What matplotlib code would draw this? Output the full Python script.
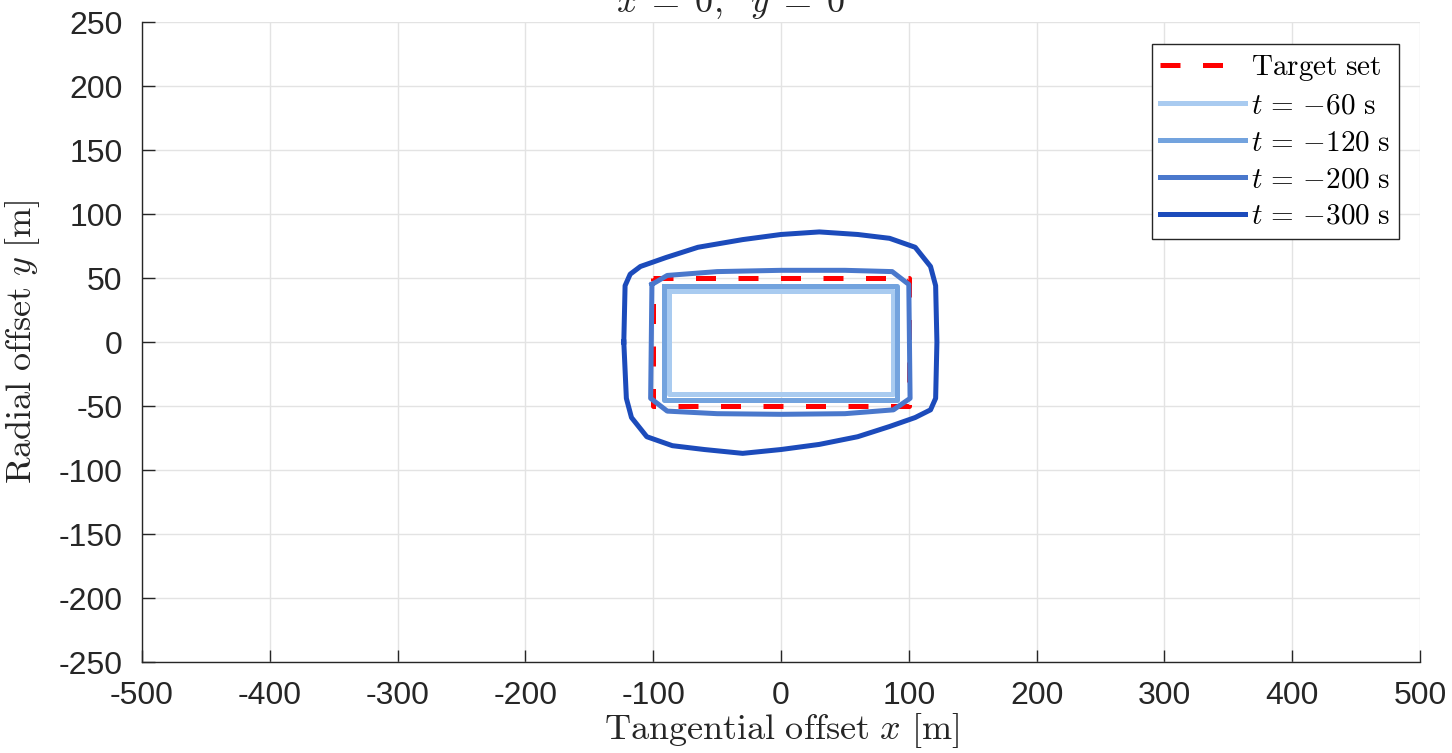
import matplotlib.pyplot as plt

plt.rcParams['mathtext.fontset'] = 'cm'
plt.rcParams['font.family'] = ['Liberation Sans', 'DejaVu Sans']
plt.rcParams['axes.unicode_minus'] = False

# Target set (box)
target_x = [-100, 100, 100, -100, -100]
target_y = [50, 50, -50, -50, 50]

# Backward reachable sets at different times
t60_x = [-88, 88, 88, -88, -88]
t60_y = [40, 40, -40.5, -40.5, 40]

t120_x = [-91.5, 91, 91, -91.5, -91.5]
t120_y = [44, 44, -45, -45, 44]

t200_x = [-101, -89, -50, 0, 50, 87, 100, 101, 88, 50, 0, -50, -89, -102, -101]
t200_y = [45, 52, 55, 56, 56, 55, 45, -44, -53, -56, -56.5, -56, -54, -44, 45]

t300_x = [-123, -122, -118, -110, -90, -65, -30, 0, 30, 60, 85, 105, 117, 121, 122,
          121, 117, 105, 85, 60, 30, 0, -30, -60, -85, -105, -117, -121, -123]
t300_y = [0, 44, 53, 59, 66, 74, 80, 84, 86, 84, 81, 74, 59, 44, 0,
          -44, -53, -59, -66, -74, -80, -84, -87, -84, -81, -74, -59, -44, 0]

series = [
    (t60_x, t60_y, "#a9cbf0", r"$t\,=\,{-60}\ \mathrm{s}$"),
    (t120_x, t120_y, "#73a3de", r"$t\,=\,{-120}\ \mathrm{s}$"),
    (t200_x, t200_y, "#4a78cc", r"$t\,=\,{-200}\ \mathrm{s}$"),
    (t300_x, t300_y, "#1c4bbb", r"$t\,=\,{-300}\ \mathrm{s}$"),
]

fig = plt.figure(figsize=(14.52, 7.53), dpi=100)
ax = fig.add_axes([142 / 1452, 1 - 662 / 753, 1278 / 1452, 640 / 753])

ax.plot(target_x, target_y, color="#ff0000", lw=3.6, dashes=(4, 4.5),
        label=r"$\mathrm{Target\ set}$", zorder=2)
for xs, ys, c, lab in series:
    ax.plot(xs, ys, color=c, lw=3.6, label=lab, zorder=3,
            solid_joinstyle="round")

ax.set_xlim(-500, 500)
ax.set_ylim(-250, 250)
ax.set_xticks(range(-500, 501, 100))
ax.set_yticks(range(-250, 251, 50))
ax.grid(True, color="#e3e3e3", lw=1.0)
ax.set_axisbelow(True)
for s in ["top", "right"]:
    ax.spines[s].set_visible(False)
for s in ["left", "bottom"]:
    ax.spines[s].set_color("#262626")
    ax.spines[s].set_linewidth(1.0)
ax.tick_params(direction="in", length=9, width=1, labelsize=23,
               colors="#262626", pad=14)

ax.set_xlabel(r"$\mathrm{Tangential\ offset}\ x\ [\mathrm{m}]$", fontsize=26,
              color="#262626", labelpad=0)
ax.set_ylabel(r"$\mathrm{Radial\ offset}\ y\ [\mathrm{m}]$", fontsize=26,
              color="#262626", labelpad=12)

fig.text(0.503, 1 - 12 / 753, r"$\dot{x}\;=\;0,\ \ \dot{y}\;=\;0$", fontsize=26,
         ha="center", va="baseline", color="#262626")

leg = ax.legend(loc="upper right", bbox_to_anchor=(1257 / 1278, 1 - 22 / 640),
                fontsize=21, frameon=True, fancybox=False, framealpha=1,
                edgecolor="#262626", handlelength=2.9, handletextpad=0.2,
                labelspacing=0.3, borderpad=0.3, borderaxespad=0)
leg.get_frame().set_linewidth(1.0)

fig.savefig("out.png", dpi=100)
